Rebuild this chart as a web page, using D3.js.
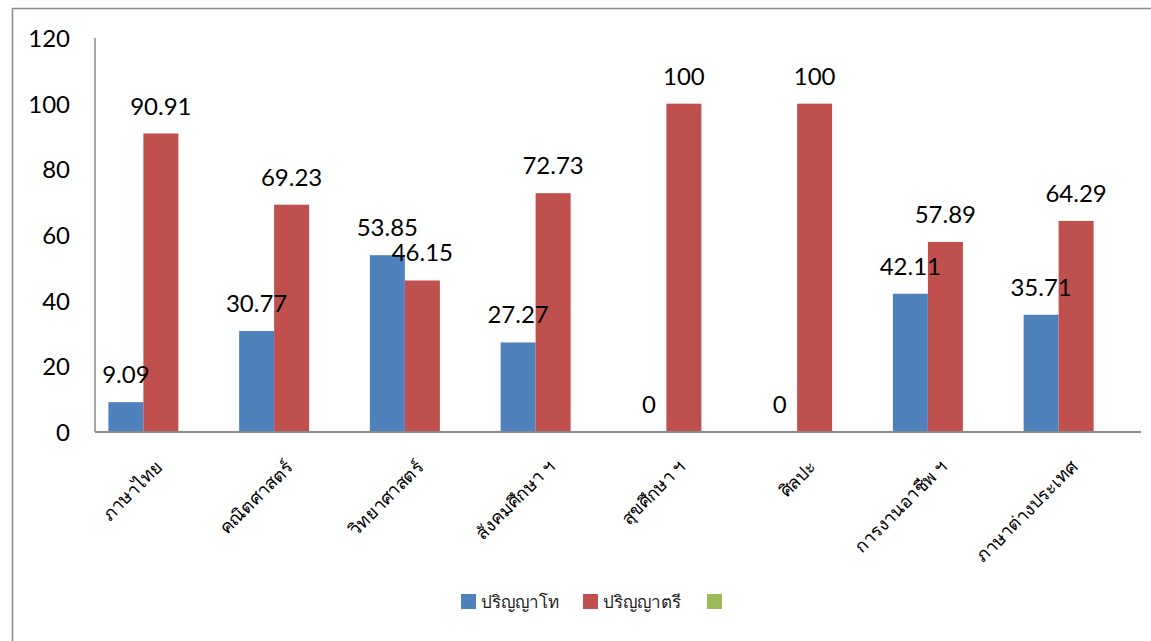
<!DOCTYPE html>
<html>
<head>
<meta charset="utf-8">
<script src="https://cdn.jsdelivr.net/npm/d3@7/dist/d3.min.js"></script>
<style>
  html, body { margin: 0; padding: 0; background: #fff; }
  svg { display: block; }
</style>
</head>
<body>
<svg id="chart" width="1151" height="641"></svg>
<script>
const categories = ["ภาษาไทย", "คณิตศาสตร์", "วิทยาศาสตร์", "สังคมศึกษา ฯ", "สุขศึกษา ฯ", "ศิลปะ", "การงานอาชีพ ฯ", "ภาษาต่างประเทศ"];
const seriesNames = ["ปริญญาโท", "ปริญญาตรี", ""];
const masterValues = [9.09, 30.77, 53.85, 27.27, 0, 0, 42.11, 35.71];
const bachelorValues = [90.91, 69.23, 46.15, 72.73, 100, 100, 57.89, 64.29];
const yTicks = [0, 20, 40, 60, 80, 100, 120];
const colors = ["#4F81BD", "#C0504D", "#9BBB59"];

const svg = d3.select("#chart");
const numFont = "Lato, 'Open Sans', sans-serif";
const thaiFont = "'Noto Sans', 'DejaVu Sans', sans-serif";

// outer frame
svg.append("rect")
  .attr("x", 12.5).attr("y", 8.5)
  .attr("width", 1160).attr("height", 660)
  .attr("fill", "none").attr("stroke", "#8a8a8a").attr("stroke-width", 1.5);

const y = d3.scaleLinear().domain([0, 120]).range([432, 38]);
const x0 = d3.scaleBand().domain(categories).range([78, 1124]).padding(0);
const x1 = d3.scaleBand().domain(seriesNames.slice(0, 2)).range([0, 70]).padding(0);
const groupOffset = (x0.bandwidth() - 70) / 2;

// y tick labels (no tick marks)
const yAxis = d3.axisLeft(y).tickValues(yTicks).tickSize(0).tickPadding(25);
const yg = svg.append("g").attr("transform", "translate(95,0)").call(yAxis);
yg.select(".domain").remove();
yg.selectAll("text")
  .attr("font-family", numFont).attr("font-size", 24).attr("fill", "#000")
  .attr("dy", "0.36em");

// bars
const data = [];
categories.forEach((c, i) => {
  data.push({ cat: c, s: seriesNames[0], v: masterValues[i], color: colors[0] });
  data.push({ cat: c, s: seriesNames[1], v: bachelorValues[i], color: colors[1] });
});

svg.append("g").selectAll("rect").data(data).join("rect")
  .attr("x", d => x0(d.cat) + groupOffset + x1(d.s))
  .attr("y", d => y(d.v))
  .attr("width", x1.bandwidth())
  .attr("height", d => y(0) - y(d.v))
  .attr("fill", d => d.color);

// axis lines
svg.append("line").attr("x1", 95).attr("x2", 95).attr("y1", y(120)).attr("y2", y(0))
  .attr("stroke", "#8a8a8a").attr("stroke-width", 1.5);
svg.append("line").attr("x1", 95).attr("x2", 1141).attr("y1", y(0)).attr("y2", y(0))
  .attr("stroke", "#8a8a8a").attr("stroke-width", 2);

// value labels
svg.append("g").selectAll("text").data(data).join("text")
  .attr("x", d => x0(d.cat) + groupOffset + x1(d.s) + x1.bandwidth() / 2)
  .attr("y", d => y(d.v) - 19)
  .attr("text-anchor", "middle")
  .attr("font-family", numFont).attr("font-size", 24).attr("fill", "#000")
  .text(d => d.v);

// category labels rotated
svg.append("g").selectAll("text").data(categories).join("text")
  .attr("transform", d => `translate(${x0(d) + x0.bandwidth() / 2 + 20},468) rotate(-45)`)
  .attr("text-anchor", "end")
  .attr("font-family", thaiFont).attr("font-size", 18).attr("fill", "#000")
  .text(d => d);

// legend
const legendX = [461, 583, 707];
const lg = svg.append("g");
seriesNames.forEach((name, i) => {
  lg.append("rect").attr("x", legendX[i]).attr("y", 594).attr("width", 15).attr("height", 15)
    .attr("fill", colors[i]);
  if (name) {
    lg.append("text").attr("x", legendX[i] + 20).attr("y", 608)
      .attr("font-family", thaiFont).attr("font-size", 17).attr("fill", "#222")
      .text(name);
  }
});
</script>
</body>
</html>
